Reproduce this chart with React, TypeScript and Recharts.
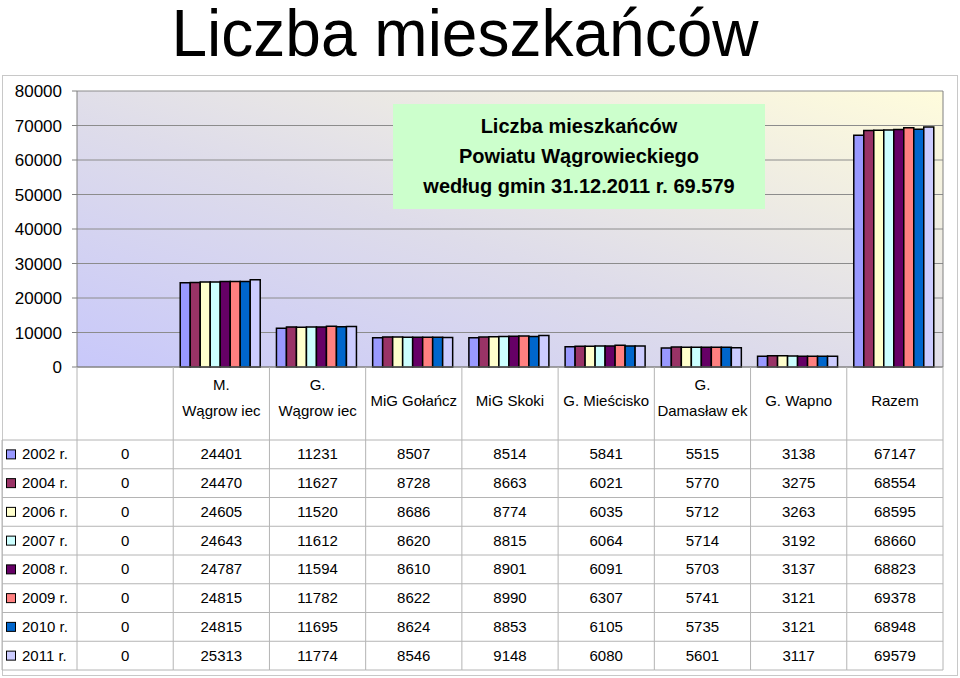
import { Bar, BarChart, CartesianGrid, XAxis, YAxis } from 'recharts'

// Liczba mieszkańców powiatu wągrowieckiego wg gmin — słupki + tabela danych pod osią X
// (tabela rysowana w ticku osi X, żeby kolumny trzymały się skali kategorii).

const categories = [
  '',
  'M.\nWągrow iec',
  'G.\nWągrow iec',
  'MiG Gołańcz',
  'MiG Skoki',
  'G. Mieścisko',
  'G.\nDamasław ek',
  'G. Wapno',
  'Razem',
]

const years = ['2002 r.', '2004 r.', '2006 r.', '2007 r.', '2008 r.', '2009 r.', '2010 r.', '2011 r.']
const colors = ['#9999ff', '#993366', '#ffffcc', '#ccffff', '#660066', '#ff8080', '#0066cc', '#ccccff']

const v2002 = [0, 24401, 11231, 8507, 8514, 5841, 5515, 3138, 67147]
const v2004 = [0, 24470, 11627, 8728, 8663, 6021, 5770, 3275, 68554]
const v2006 = [0, 24605, 11520, 8686, 8774, 6035, 5712, 3263, 68595]
const v2007 = [0, 24643, 11612, 8620, 8815, 6064, 5714, 3192, 68660]
const v2008 = [0, 24787, 11594, 8610, 8901, 6091, 5703, 3137, 68823]
const v2009 = [0, 24815, 11782, 8622, 8990, 6307, 5741, 3121, 69378]
const v2010 = [0, 24815, 11695, 8624, 8853, 6105, 5735, 3121, 68948]
const v2011 = [0, 25313, 11774, 8546, 9148, 6080, 5601, 3117, 69579]

const series = [v2002, v2004, v2006, v2007, v2008, v2009, v2010, v2011]
const yTicks = [0, 10000, 20000, 30000, 40000, 50000, 60000, 70000, 80000]

const data = categories.map((name, i) => {
  const row: Record<string, string | number> = { name }
  years.forEach((y, s) => (row[y] = series[s][i]))
  return row
})

// geometria tabeli pod wykresem
const HEADER_H = 73
const ROW_H = 28.75
const TABLE_LEFT = 2
const FALLBACK_BAND = (960 - 77 - 17) / 9
const FONT = '"Liberation Sans", Arial, sans-serif'
const LINE = '#b4b4b4'

function TableColumn(props: any) {
  const { x, y, payload, index } = props
  const bw = payload && payload.offset ? payload.offset * 2 : FALLBACK_BAND
  const left = x - bw / 2
  const right = x + bw / 2
  const label: string[] = String(payload.value).split('\n')
  const tableTop = y + HEADER_H
  const bottom = tableTop + ROW_H * years.length
  const last = index === categories.length - 1

  return (
    <g fontFamily={FONT}>
      <line x1={left} x2={left} y1={y} y2={bottom} stroke={LINE} />
      {last && <line x1={right} x2={right} y1={y} y2={bottom} stroke={LINE} />}
      {years.map((_, r) => (
        <line key={r} x1={left} x2={right} y1={tableTop + r * ROW_H} y2={tableTop + r * ROW_H} stroke={LINE} />
      ))}
      <line x1={left} x2={right} y1={bottom} y2={bottom} stroke={LINE} />
      {label.map((t, k) => (
        <text
          key={k}
          x={x}
          y={y + (label.length === 1 ? 39 : 23 + k * 26)}
          textAnchor="middle"
          fontSize={15}
          fill="#000"
        >
          {t}
        </text>
      ))}
      {series.map((s, r) => (
        <text key={r} x={x} y={tableTop + ROW_H * (r + 0.5) + 5} textAnchor="middle" fontSize={15} fill="#000">
          {s[index]}
        </text>
      ))}
      {index === 0 && (
        <g>
          <line x1={TABLE_LEFT} x2={TABLE_LEFT} y1={tableTop} y2={bottom} stroke={LINE} />
          {years.map((yr, r) => (
            <g key={yr}>
              <line x1={TABLE_LEFT} x2={left} y1={tableTop + r * ROW_H} y2={tableTop + r * ROW_H} stroke={LINE} />
              <rect
                x={TABLE_LEFT + 4.5}
                y={tableTop + ROW_H * (r + 0.5) - 4.5}
                width={9}
                height={9}
                fill={colors[r]}
                stroke="#000"
                strokeWidth={1}
              />
              <text x={TABLE_LEFT + 20} y={tableTop + ROW_H * (r + 0.5) + 5} fontSize={15} fill="#000">
                {yr}
              </text>
            </g>
          ))}
          <line x1={TABLE_LEFT} x2={left} y1={bottom} y2={bottom} stroke={LINE} />
        </g>
      )}
    </g>
  )
}

export default function App() {
  return (
    <div style={{ position: 'absolute', left: 0, top: 0, width: 960, height: 678, background: '#fff' }}>
      <div
        style={{
          position: 'absolute',
          left: 2,
          top: 75,
          width: 956,
          height: 601,
          border: '1px solid #c8c8c8',
          boxSizing: 'border-box',
        }}
      />
      <div
        style={{
          position: 'absolute',
          left: 115,
          top: 0,
          width: 700,
          textAlign: 'center',
          fontFamily: FONT,
          fontSize: 66,
          lineHeight: '66px',
          whiteSpace: 'nowrap',
          transform: 'scaleX(0.97)',
          color: '#000',
        }}
      >
        Liczba mieszkańców
      </div>
      <div style={{ position: 'absolute', left: 0, top: 0 }}>
        <BarChart
          width={960}
          height={678}
          data={data}
          margin={{ top: 91, right: 0, bottom: 8, left: 0 }}
          barCategoryGap={7}
          barGap={0}
        >
          <defs>
            <linearGradient id="plotBg" x1="0" y1="1" x2="1" y2="0">
              <stop offset="0%" stopColor="#c8c8fa" />
              <stop offset="45%" stopColor="#dedcea" />
              <stop offset="100%" stopColor="#fffcdc" />
            </linearGradient>
          </defs>
          <CartesianGrid vertical={false} stroke="#8c8c8c" fill="url(#plotBg)" fillOpacity={1} />
          <XAxis
            dataKey="name"
            height={303}
            axisLine={{ stroke: '#808080' }}
            tickLine={false}
            tickSize={0}
            tickMargin={0}
            interval={0}
            tick={<TableColumn />}
          />
          <YAxis
            width={77}
            domain={[0, 80000]}
            ticks={yTicks}
            interval={0}
            axisLine={{ stroke: '#808080' }}
            tickLine={{ stroke: '#808080' }}
            tickSize={5}
            tickMargin={10}
            tick={{ fontSize: 17, fill: '#000', fontFamily: FONT }}
          />
          <YAxis
            yAxisId="frame"
            orientation="right"
            width={17}
            tick={false}
            tickLine={false}
            axisLine={{ stroke: '#808080' }}
          />
          {years.map((y, s) => (
            <Bar key={y} dataKey={y} fill={colors[s]} stroke="#000" strokeWidth={1.5} isAnimationActive={false} />
          ))}
        </BarChart>
      </div>
      <div
        style={{
          position: 'absolute',
          left: 393,
          top: 104,
          width: 372,
          height: 105,
          background: '#ccffcc',
          fontFamily: FONT,
          fontWeight: 'bold',
          fontSize: 20,
          lineHeight: '30px',
          textAlign: 'center',
          paddingTop: 7,
          boxSizing: 'border-box',
          color: '#000',
        }}
      >
        Liczba mieszkańców
        <br />
        Powiatu Wągrowieckiego
        <br />
        według gmin 31.12.2011 r. 69.579
      </div>
    </div>
  )
}
